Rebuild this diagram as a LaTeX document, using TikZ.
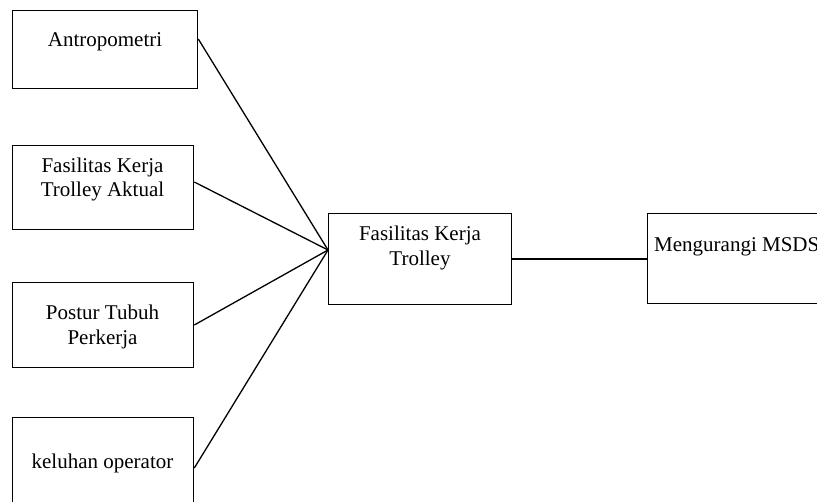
\documentclass[tikz,border=0pt]{standalone}
\usepackage{fontspec}
\setmainfont{Liberation Serif}
\usetikzlibrary{calc}
\begin{document}
\begin{tikzpicture}[x=1pt,y=-1pt,
  box/.style={draw, line width=1.3pt, rectangle, inner sep=0pt, anchor=north west},
  lbl/.style={anchor=base, font=\fontsize{21}{24}\selectfont, inner sep=0pt},
  conn/.style={line width=1.3pt}]
\useasboundingbox (0,0) rectangle (817,501);
\fill[white] (0,0) rectangle (817,501);
\clip (0,0) rectangle (817,501);
% boxes
\node[box, minimum width=185, minimum height=78] (b1) at (12,10) {};
\node[box, minimum width=181, minimum height=84] (b2) at (12,145) {};
\node[box, minimum width=181, minimum height=85] (b3) at (12,282) {};
\node[box, minimum width=181, minimum height=110] (b4) at (12,417) {};
\node[box, minimum width=183, minimum height=91] (c) at (328,213) {};
\node[box, minimum width=260, minimum height=90] (r) at (647,213) {};
% labels
\node[lbl] (t1) at (105,46) {Antropometri};
\node[lbl] (t2a) at (102.5,172) {Fasilitas Kerja};
\node[lbl] (t2b) at (102.5,196) {Trolley Aktual};
\node[lbl] (t3a) at (102.5,319) {Postur Tubuh};
\node[lbl] (t3b) at (102.5,344) {Perkerja};
\node[lbl] (t4) at (102.5,468) {keluhan operator};
\node[lbl] (tca) at (420,240) {Fasilitas Kerja};
\node[lbl] (tcb) at (420,265) {Trolley};
\node[lbl, anchor=base west] (tr) at (654,251) {Mengurangi MSDS};
% connectors
\coordinate (apex) at ($(c.north west)+(0,37)$);
\coordinate (p1) at ($(b1.north east)+(0,29)$);
\coordinate (p2) at ($(b2.north east)+(0,37)$);
\coordinate (p3) at ($(b3.north east)+(0,43)$);
\coordinate (p4) at ($(b4.north east)+(0,51)$);
\coordinate (pc) at ($(c.north east)+(0,46)$);
\draw[conn] (p1) -- (apex);
\draw[conn] (p2) -- (apex);
\draw[conn] (p3) -- (apex);
\draw[conn] (p4) -- (apex);
\draw[conn] (pc) -- (r.west |- pc);
\end{tikzpicture}
\end{document}
